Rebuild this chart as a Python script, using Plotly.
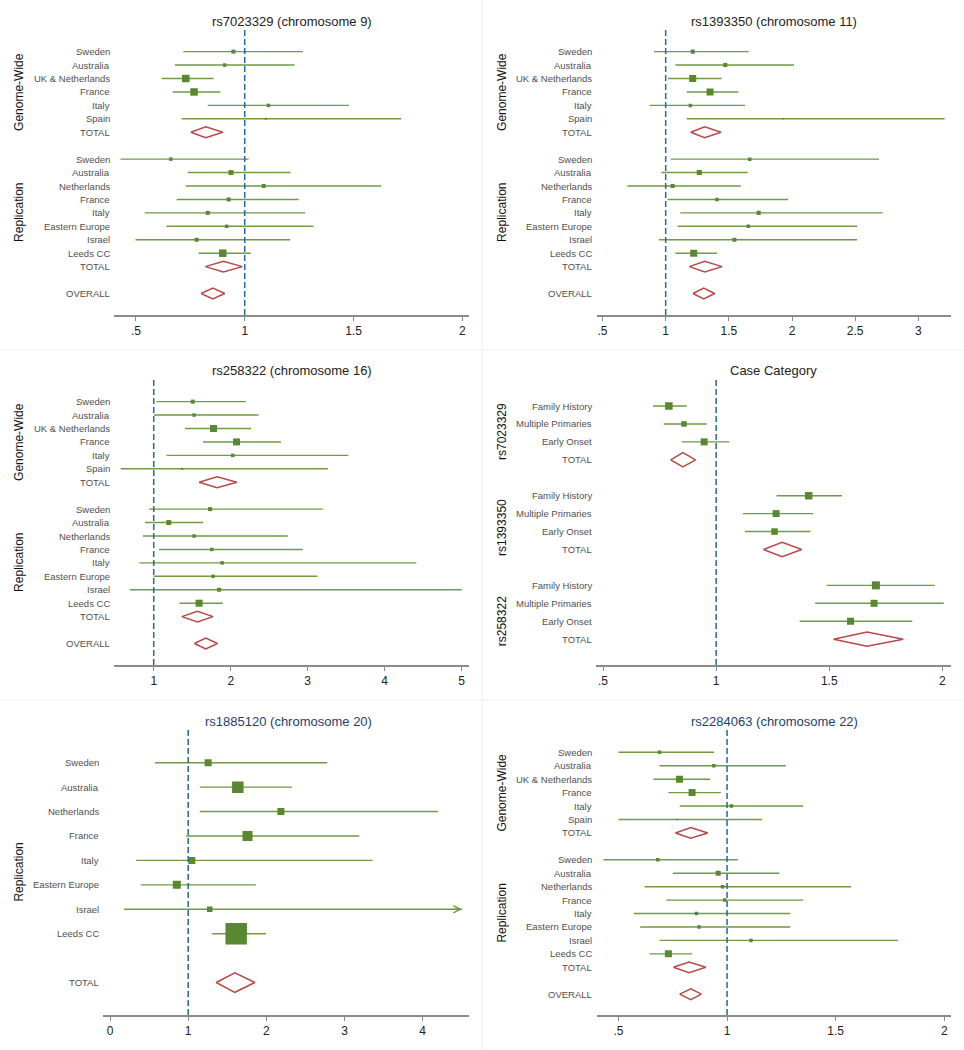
import plotly.graph_objects as go

W, H = 964, 1050

# ---------------- data ----------------
GW_STUDIES = ["Sweden", "Australia", "UK & Netherlands", "France", "Italy", "Spain"]
REP_STUDIES = ["Sweden", "Australia", "Netherlands", "France", "Italy",
               "Eastern Europe", "Israel", "Leeds CC"]
TOTAL_LABELS = ["TOTAL", "TOTAL", "OVERALL"]

# rs7023329 (chromosome 9)
rs7023329_gw_or = [0.948, 0.908, 0.729, 0.767, 1.109, 1.097]
rs7023329_gw_lo = [0.718, 0.679, 0.618, 0.669, 0.830, 0.710]
rs7023329_gw_hi = [1.267, 1.229, 0.857, 0.888, 1.479, 1.719]
rs7023329_gw_w = [6.3, 4.8, 22.0, 22.0, 4.8, 1.6]
rs7023329_rep_or = [0.660, 0.937, 1.087, 0.926, 0.830, 0.917, 0.779, 0.899]
rs7023329_rep_lo = [0.429, 0.738, 0.729, 0.687, 0.540, 0.640, 0.498, 0.788]
rs7023329_rep_hi = [1.018, 1.210, 1.627, 1.248, 1.278, 1.316, 1.209, 1.028]
rs7023329_rep_w = [4.8, 9.8, 6.3, 6.3, 6.3, 4.8, 6.3, 22.0]
rs7023329_tot_or = [0.821, 0.902, 0.853]
rs7023329_tot_lo = [0.752, 0.819, 0.799]
rs7023329_tot_hi = [0.899, 0.989, 0.908]

# rs1393350 (chromosome 11)
rs1393350_gw_or = [1.214, 1.472, 1.214, 1.351, 1.195, 1.931]
rs1393350_gw_lo = [0.908, 1.077, 1.018, 1.166, 0.873, 1.166]
rs1393350_gw_hi = [1.657, 2.016, 1.443, 1.575, 1.628, 3.208]
rs1393350_gw_w = [6.3, 6.3, 19.1, 19.1, 4.8, 0.9]
rs1393350_rep_or = [1.665, 1.266, 1.055, 1.406, 1.736, 1.654, 1.544, 1.222]
rs1393350_rep_lo = [1.040, 0.966, 0.697, 1.016, 1.116, 1.095, 0.947, 1.077]
rs1393350_rep_hi = [2.689, 1.649, 1.594, 1.968, 2.718, 2.515, 2.515, 1.406]
rs1393350_rep_w = [4.8, 9.8, 6.3, 4.8, 6.3, 4.8, 6.3, 19.1]
rs1393350_tot_or = [1.309, 1.309, 1.301]
rs1393350_tot_lo = [1.198, 1.187, 1.216]
rs1393350_tot_hi = [1.438, 1.446, 1.388]

# rs258322 (chromosome 16)
rs258322_gw_or = [1.507, 1.524, 1.776, 2.075, 2.027, 1.368]
rs258322_gw_lo = [1.035, 1.004, 1.407, 1.641, 1.165, 0.571]
rs258322_gw_hi = [2.196, 2.361, 2.265, 2.651, 3.527, 3.262]
rs258322_gw_w = [6.3, 4.8, 19.1, 19.1, 4.8, 1.6]
rs258322_rep_or = [1.732, 1.195, 1.524, 1.754, 1.888, 1.771, 1.849, 1.589]
rs258322_rep_lo = [0.939, 0.887, 0.861, 1.069, 0.814, 1.000, 0.692, 1.334]
rs258322_rep_hi = [3.197, 1.641, 2.742, 2.937, 4.411, 3.128, 5.000, 1.897]
rs258322_rep_w = [6.3, 9.8, 4.8, 4.8, 4.8, 4.8, 6.3, 19.1]
rs258322_tot_or = [1.823, 1.568, 1.676]
rs258322_tot_lo = [1.589, 1.364, 1.529]
rs258322_tot_hi = [2.079, 1.771, 1.828]

# Case category
CASE_CATS = ["Family History", "Multiple Primaries", "Early Onset"]
CASE_SNPS = ["rs7023329", "rs1393350", "rs258322"]
case_or = [[0.791, 0.858, 0.947], [1.409, 1.265, 1.258], [1.706, 1.698, 1.594]]
case_lo = [[0.721, 0.768, 0.848], [1.267, 1.119, 1.128], [1.488, 1.438, 1.369]]
case_hi = [[0.870, 0.959, 1.058], [1.556, 1.429, 1.417], [1.966, 2.006, 1.867]]
case_w = [[22.0, 11.8, 19.1], [22.0, 19.1, 16.5], [25.0, 19.1, 19.1]]
case_tot_or = [0.853, 1.292, 1.667]
case_tot_lo = [0.799, 1.209, 1.519]
case_tot_hi = [0.909, 1.378, 1.827]

# rs1885120 (chromosome 20) - replication only
rs1885120_rep_or = [1.255, 1.635, 2.186, 1.759, 1.046, 0.854, 1.276, 1.614]
rs1885120_rep_lo = [0.576, 1.148, 1.148, 0.973, 0.333, 0.393, 0.179, 1.306]
rs1885120_rep_hi = [2.779, 2.327, 4.196, 3.189, 3.360, 1.866, 5.300, 1.994]
rs1885120_rep_w = [8.5, 23.0, 8.5, 17.4, 8.5, 11.1, 5.3, 80.0]
rs1885120_tot_or = [1.597]
rs1885120_tot_lo = [1.358]
rs1885120_tot_hi = [1.853]

# rs2284063 (chromosome 22)
rs2284063_gw_or = [0.689, 0.939, 0.781, 0.839, 1.020, 0.770]
rs2284063_gw_lo = [0.500, 0.689, 0.661, 0.730, 0.782, 0.500]
rs2284063_gw_hi = [0.940, 1.270, 0.922, 0.971, 1.350, 1.161]
rs2284063_gw_w = [4.8, 4.8, 19.1, 19.1, 4.8, 0.9]
rs2284063_rep_or = [0.681, 0.959, 0.979, 0.989, 0.859, 0.871, 1.110, 0.730]
rs2284063_rep_lo = [0.431, 0.750, 0.620, 0.721, 0.571, 0.600, 0.689, 0.643]
rs2284063_rep_hi = [1.049, 1.241, 1.571, 1.350, 1.291, 1.291, 1.788, 0.839]
rs2284063_rep_w = [4.8, 9.8, 4.8, 4.8, 4.8, 4.8, 4.8, 19.1]
rs2284063_tot_or = [0.833, 0.825, 0.833]
rs2284063_tot_lo = [0.762, 0.753, 0.782]
rs2284063_tot_hi = [0.911, 0.902, 0.882]

# ---------------- style ----------------
FONT = "Liberation Sans, Arial, sans-serif"
CI_COLOR = "#6e9b44"
BOX_COLOR = "#5a8731"
DIA_COLOR = "#b8494a"
REF_COLOR = "#2a659e"
AXIS_COLOR = "#8a8a8a"
LABEL_COLOR = "#505050"
DIA_HALF = 0.4

fig = go.Figure()
annotations = []
shapes = []


def geom_panel(i, x0, x1, y0, y1, xr, yr, tickvals, ticktext):
    sfx = "" if i == 1 else str(i)
    fig.layout["xaxis" + sfx] = dict(
        domain=[x0 / W, x1 / W], range=xr, anchor="y" + sfx,
        showline=True, linecolor=AXIS_COLOR, linewidth=1.5,
        ticks="outside", ticklen=4, tickcolor=AXIS_COLOR, tickwidth=1,
        tickvals=tickvals, ticktext=ticktext, showgrid=False, zeroline=False,
        tickfont=dict(family=FONT, size=12, color="#222222"), fixedrange=True)
    fig.layout["yaxis" + sfx] = dict(
        domain=[1 - y1 / H, 1 - y0 / H], range=yr, anchor="x" + sfx,
        visible=False, fixedrange=True)
    shapes.append(dict(type="line", xref="x" + sfx, yref="y" + sfx + " domain",
                       x0=1, x1=1, y0=0, y1=1,
                       line=dict(color=REF_COLOR, width=1.5, dash="6px,3px")))
    return "x" + sfx, "y" + sfx


def add_title(text, xc, yc, color):
    annotations.append(dict(text=text, xref="paper", yref="paper", x=xc / W, y=1 - yc / H,
                            showarrow=False, xanchor="center", yanchor="middle",
                            font=dict(family=FONT, size=13, color=color)))


def add_studies(xa, ya, rows, labels, est, lo, hi, w, scale, lab_x, clip=None):
    xs, ys = [], []
    for r, l, h in zip(rows, lo, hi):
        hh = h if clip is None else min(h, clip)
        xs += [l, hh, None]
        ys += [r, r, None]
    fig.add_trace(go.Scatter(x=xs, y=ys, xaxis=xa, yaxis=ya, mode="lines",
                             line=dict(color=CI_COLOR, width=1.4),
                             hoverinfo="skip", showlegend=False))
    fig.add_trace(go.Scatter(x=est, y=rows, xaxis=xa, yaxis=ya, mode="markers",
                             marker=dict(symbol="square", color=BOX_COLOR, opacity=1,
                                         size=[scale * v ** 0.5 for v in w],
                                         line=dict(width=0)),
                             showlegend=False))
    for r, t in zip(rows, labels):
        annotations.append(dict(text=t, xref="paper", yref=ya, x=lab_x / W, y=r,
                                showarrow=False, xanchor="right", yanchor="middle",
                                font=dict(family=FONT, size=9.5, color=LABEL_COLOR)))


def add_diamonds(xa, ya, rows, labels, est, lo, hi, lab_x):
    xs, ys = [], []
    for r, e, l, h in zip(rows, est, lo, hi):
        xs += [l, e, h, e, l, None]
        ys += [r, r - DIA_HALF, r, r + DIA_HALF, r, None]
    fig.add_trace(go.Scatter(x=xs, y=ys, xaxis=xa, yaxis=ya, mode="lines",
                             line=dict(color=DIA_COLOR, width=1.5),
                             hoverinfo="skip", showlegend=False))
    for r, t in zip(rows, labels):
        annotations.append(dict(text=t, xref="paper", yref=ya, x=lab_x / W, y=r,
                                showarrow=False, xanchor="right", yanchor="middle",
                                font=dict(family=FONT, size=9.5, color=LABEL_COLOR)))


def add_group(ya, text, xpx, row):
    annotations.append(dict(text=text, xref="paper", yref=ya, x=xpx / W, y=row,
                            showarrow=False, textangle=-90, xanchor="center",
                            yanchor="middle",
                            font=dict(family=FONT, size=12, color="#111111")))


def full_forest(i, x0, x1, y0, xr, yr, tv, tt, title, tcolor, gpx, labx,
                gw_or, gw_lo, gw_hi, gw_w, rep_or, rep_lo, rep_hi, rep_w,
                tot_or, tot_lo, tot_hi):
    xa, ya = geom_panel(i, x0, x1, y0 + 30, y0 + 315, xr, yr, tv, tt)
    n_gw = len(GW_STUDIES)
    n_rep = len(REP_STUDIES)
    gw_rows = list(range(n_gw))
    gw_tot = n_gw
    rep_rows = [gw_tot + 2 + k for k in range(n_rep)]
    rep_tot = rep_rows[-1] + 1
    ov = rep_tot + 2
    add_studies(xa, ya, gw_rows, GW_STUDIES, gw_or, gw_lo, gw_hi, gw_w, 1.6, labx)
    add_studies(xa, ya, rep_rows, REP_STUDIES, rep_or, rep_lo, rep_hi, rep_w, 1.6, labx)
    add_diamonds(xa, ya, [gw_tot, rep_tot, ov], TOTAL_LABELS, tot_or, tot_lo, tot_hi, labx)
    add_group(ya, "Genome-Wide", gpx, (gw_rows[0] + gw_tot) / 2)
    add_group(ya, "Replication", gpx, (rep_rows[0] + rep_tot) / 2)
    add_title(title, (x0 + x1) / 2, y0 + 21, tcolor)


full_forest(1, 114, 469, 0, [0.399, 2.031], [19.6, -1.61], [0.5, 1, 1.5, 2],
            [".5", "1", "1.5", "2"], "rs7023329 (chromosome 9)", "#222222", 19, 111.5,
            rs7023329_gw_or, rs7023329_gw_lo, rs7023329_gw_hi, rs7023329_gw_w,
            rs7023329_rep_or, rs7023329_rep_lo, rs7023329_rep_hi, rs7023329_rep_w,
            rs7023329_tot_or, rs7023329_tot_lo, rs7023329_tot_hi)

full_forest(2, 596.7, 950.7, 0, [0.454, 3.256], [19.6, -1.61], [0.5, 1, 1.5, 2, 2.5, 3],
            [".5", "1", "1.5", "2", "2.5", "3"], "rs1393350 (chromosome 11)", "#222222", 502, 594,
            rs1393350_gw_or, rs1393350_gw_lo, rs1393350_gw_hi, rs1393350_gw_w,
            rs1393350_rep_or, rs1393350_rep_lo, rs1393350_rep_hi, rs1393350_rep_w,
            rs1393350_tot_or, rs1393350_tot_lo, rs1393350_tot_hi)

full_forest(3, 114, 469, 350, [0.484, 5.095], [19.6, -1.61], [1, 2, 3, 4, 5],
            ["1", "2", "3", "4", "5"], "rs258322 (chromosome 16)", "#222222", 19, 111.5,
            rs258322_gw_or, rs258322_gw_lo, rs258322_gw_hi, rs258322_gw_w,
            rs258322_rep_or, rs258322_rep_lo, rs258322_rep_hi, rs258322_rep_w,
            rs258322_tot_or, rs258322_tot_lo, rs258322_tot_hi)

full_forest(6, 596.7, 951.3, 700, [0.400, 2.032], [19.55, -1.66], [0.5, 1, 1.5, 2],
            [".5", "1", "1.5", "2"], "rs2284063 (chromosome 22)", "#1f3d72", 502, 594,
            rs2284063_gw_or, rs2284063_gw_lo, rs2284063_gw_hi, rs2284063_gw_w,
            rs2284063_rep_or, rs2284063_rep_lo, rs2284063_rep_hi, rs2284063_rep_w,
            rs2284063_tot_or, rs2284063_tot_lo, rs2284063_tot_hi)

# ---- Case category panel ----
xa4, ya4 = geom_panel(4, 596, 951, 380, 665, [0.469, 2.038], [14.44, -1.45],
                      [0.5, 1, 1.5, 2], [".5", "1", "1.5", "2"])
case_group_centres = [1.45, 6.8, 12.0]
for g, snp in enumerate(CASE_SNPS):
    base = g * (len(CASE_CATS) + 2)
    rows = [base + k for k in range(len(CASE_CATS))]
    trow = base + len(CASE_CATS)
    add_studies(xa4, ya4, rows, CASE_CATS, case_or[g], case_lo[g], case_hi[g],
                case_w[g], 1.6, 593.7)
    add_diamonds(xa4, ya4, [trow], ["TOTAL"], [case_tot_or[g]], [case_tot_lo[g]],
                 [case_tot_hi[g]], 593.7)
    add_group(ya4, snp, 502, case_group_centres[g])
add_title("Case Category", (596 + 951) / 2, 371, "#222222")

# ---- rs1885120 panel ----
X5_RANGE = [-0.094, 4.593]
xa5, ya5 = geom_panel(5, 102.7, 469, 730, 1015, X5_RANGE, [10.33, -1.34],
                      [0, 1, 2, 3, 4], ["0", "1", "2", "3", "4"])
clip5 = X5_RANGE[1] - 0.09
rows5 = list(range(len(REP_STUDIES)))
add_studies(xa5, ya5, rows5, REP_STUDIES, rs1885120_rep_or, rs1885120_rep_lo,
            rs1885120_rep_hi, rs1885120_rep_w, 2.4, 100.5, clip=clip5)
add_diamonds(xa5, ya5, [rows5[-1] + 2], ["TOTAL"], rs1885120_tot_or, rs1885120_tot_lo,
             rs1885120_tot_hi, 100.5)
add_group(ya5, "Replication", 19, (rows5[-1] + 2) / 2)
for r, h in zip(rows5, rs1885120_rep_hi):
    if h > clip5:
        annotations.append(dict(text="", xref=xa5, yref=ya5, axref=xa5, ayref=ya5,
                                x=clip5, y=r, ax=clip5 - 0.12, ay=r, showarrow=True,
                                arrowhead=5, arrowsize=1, arrowwidth=1.4,
                                arrowcolor=CI_COLOR))
add_title("rs1885120 (chromosome 20)", (102.7 + 469) / 2 + 3, 721, "#1f3d72")

# faint panel separators
for sh in [dict(x0=482 / W, x1=482 / W, y0=0, y1=1),
           dict(x0=0, x1=1, y0=1 - 350 / H, y1=1 - 350 / H),
           dict(x0=0, x1=1, y0=1 - 700 / H, y1=1 - 700 / H)]:
    shapes.append(dict(type="line", xref="paper", yref="paper",
                       line=dict(color="#efefef", width=1), **sh))

fig.update_layout(width=W, height=H, margin=dict(l=0, r=0, t=0, b=0),
                  paper_bgcolor="white", plot_bgcolor="white",
                  annotations=annotations, shapes=shapes, showlegend=False,
                  font=dict(family=FONT))

fig.write_html("out.html", config={"displayModeBar": False},
               post_script="document.body.style.margin='0';"
                           "document.body.style.overflow='hidden';")
